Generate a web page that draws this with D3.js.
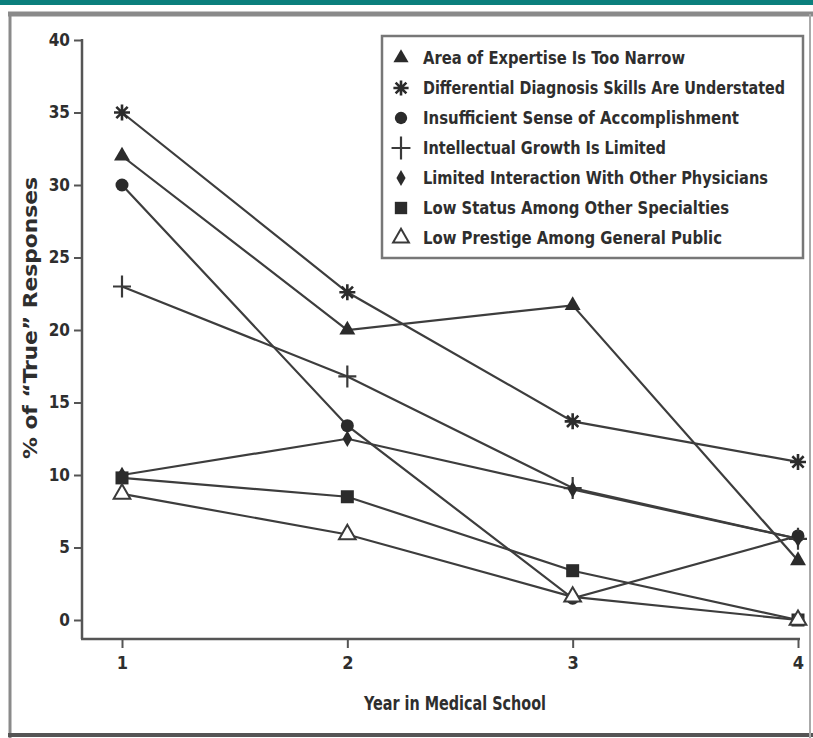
<!DOCTYPE html>
<html>
<head>
<meta charset="utf-8">
<script src="https://cdn.jsdelivr.net/npm/d3@7"></script>
<style>
  html, body { margin: 0; padding: 0; background: #fff; }
  svg { display: block; }
  text { font-family: "Liberation Sans Narrow", "DejaVu Sans Condensed", "Roboto Condensed", sans-serif; fill: #2e2e2e; font-weight: bold; }
</style>
</head>
<body>
<svg id="chart" width="813" height="738"></svg>
<script>
// ---- data ----
const years = [1, 2, 3, 4];
const yTicks = [0, 5, 10, 15, 20, 25, 30, 35, 40];
const seriesNames = [
  "Area of Expertise Is Too Narrow",
  "Differential Diagnosis Skills Are Understated",
  "Insufficient Sense of Accomplishment",
  "Intellectual Growth Is Limited",
  "Limited Interaction With Other Physicians",
  "Low Status Among Other Specialties",
  "Low Prestige Among General Public"
];
const areaOfExpertise        = [32.0, 20.0, 21.7, 4.1];
const differentialDiagnosis  = [35.0, 22.6, 13.7, 10.9];
const insufficientSense      = [30.0, 13.4, 1.5, 5.8];
const intellectualGrowth     = [23.0, 16.8, 9.1, 5.6];
const limitedInteraction     = [10.0, 12.5, 9.0, 5.6];
const lowStatus              = [9.8, 8.5, 3.4, 0.0];
const lowPrestige            = [8.7, 5.9, 1.6, 0.0];
const seriesValues = [areaOfExpertise, differentialDiagnosis, insufficientSense,
  intellectualGrowth, limitedInteraction, lowStatus, lowPrestige];
const markerTypes = ["triangle", "asterisk", "circle", "plus", "diamond", "square", "openTriangle"];
const xTitle = "Year in Medical School";
const yTitle = "% of \u201CTrue\u201D Responses";

// ---- drawing ----
const svg = d3.select("#chart");
const fontStack = "'Liberation Sans Narrow','DejaVu Sans Condensed',sans-serif";

// frame / scan border
svg.append("rect").attr("x", 0).attr("y", 0).attr("width", 813).attr("height", 5).attr("fill", "#0b7f7c");
svg.append("line").attr("x1", 8).attr("x2", 813).attr("y1", 14).attr("y2", 14).attr("stroke", "#8a8a8a").attr("stroke-width", 5);
svg.append("line").attr("x1", 10).attr("x2", 10).attr("y1", 14).attr("y2", 738).attr("stroke", "#8a8a8a").attr("stroke-width", 3);
svg.append("line").attr("x1", 8).attr("x2", 813).attr("y1", 735).attr("y2", 735).attr("stroke", "#555").attr("stroke-width", 4);
svg.append("line").attr("x1", 810).attr("x2", 810).attr("y1", 14).attr("y2", 738).attr("stroke", "#aaa").attr("stroke-width", 2);

const x = d3.scaleLinear().domain([1, 4]).range([122, 798]);
const y = d3.scaleLinear().domain([0, 40]).range([620, 40]);
const axisY = 639, axisX = 82;

// y axis
const gy = svg.append("g").attr("transform", `translate(${axisX},0)`)
  .call(d3.axisLeft(y).tickValues(yTicks).tickSize(8).tickPadding(4));
gy.select(".domain").remove();
gy.selectAll(".tick line").attr("stroke", "#555").attr("stroke-width", 2);
gy.selectAll(".tick text").attr("font-size", 17).attr("fill", "#333").attr("font-weight", "bold")
  .style("font-family", fontStack);
svg.append("line").attr("x1", axisX).attr("x2", axisX).attr("y1", y(40) - 1).attr("y2", axisY)
  .attr("stroke", "#555").attr("stroke-width", 2.5);

// x axis
const gx = svg.append("g").attr("transform", `translate(0,${axisY})`)
  .call(d3.axisBottom(x).tickValues(years).tickFormat(d3.format("d")).tickSize(9).tickPadding(8));
gx.select(".domain").remove();
gx.selectAll(".tick line").attr("stroke", "#555").attr("stroke-width", 2);
gx.selectAll(".tick text").attr("font-size", 18).attr("fill", "#333").attr("font-weight", "bold")
  .style("font-family", fontStack);
svg.append("line").attr("x1", axisX - 1).attr("x2", x(4) + 2).attr("y1", axisY).attr("y2", axisY)
  .attr("stroke", "#555").attr("stroke-width", 2.5);

// axis titles
svg.append("text").attr("x", 455).attr("y", 710).attr("text-anchor", "middle")
  .attr("font-size", 20).attr("textLength", 182).attr("lengthAdjust", "spacingAndGlyphs").text(xTitle);
svg.append("text").attr("transform", "translate(37,318) rotate(-90)").attr("text-anchor", "middle")
  .attr("font-size", 20).attr("textLength", 282).attr("lengthAdjust", "spacingAndGlyphs").text(yTitle);

// marker drawer
function drawMarker(g, type, cx, cy, scale) {
  const s = scale || 1;
  const m = g.append("g").attr("transform", `translate(${cx},${cy})`);
  switch (type) {
    case "triangle":
      m.append("path").attr("d", d3.symbol(d3.symbolTriangle, 110 * s * s)()).attr("fill", "#2b2b2b");
      break;
    case "openTriangle":
      m.append("path").attr("d", d3.symbol(d3.symbolTriangle, 120 * s * s)()).attr("fill", "#fff")
        .attr("stroke", "#3a3a3a").attr("stroke-width", 2);
      break;
    case "circle":
      m.append("circle").attr("r", 6.5 * s).attr("fill", "#2b2b2b");
      break;
    case "square":
      m.append("rect").attr("x", -6.5 * s).attr("y", -6.5 * s).attr("width", 13 * s).attr("height", 13 * s).attr("fill", "#2b2b2b");
      break;
    case "diamond":
      m.append("path").attr("d", d3.symbol(d3.symbolDiamond, 80 * s * s)()).attr("fill", "#2b2b2b");
      break;
    case "plus":
      m.append("path").attr("d", `M${-9 * s},0H${9 * s}M0,${-11 * s}V${11 * s}`).attr("stroke", "#3a3a3a").attr("stroke-width", 2.2);
      break;
    case "asterisk": {
      const r = 8 * s;
      let d = "";
      for (let k = 0; k < 4; k++) {
        const a = k * Math.PI / 4;
        d += `M${-r * Math.cos(a)},${-r * Math.sin(a)}L${r * Math.cos(a)},${r * Math.sin(a)}`;
      }
      m.append("path").attr("d", d).attr("stroke", "#2b2b2b").attr("stroke-width", 2.6);
      break;
    }
  }
}

// lines
const line = d3.line().x((d, i) => x(years[i])).y(d => y(d));
const plot = svg.append("g");
seriesValues.forEach(vals => {
  plot.append("path").attr("d", line(vals)).attr("fill", "none")
    .attr("stroke", "#3d3d3d").attr("stroke-width", 2.2);
});
// markers
seriesValues.forEach((vals, si) => {
  vals.forEach((v, i) => drawMarker(plot, markerTypes[si], x(years[i]), y(v), 1));
});

// legend
const lg = svg.append("g");
lg.append("rect").attr("x", 382).attr("y", 36).attr("width", 421).attr("height", 222)
  .attr("fill", "#fff").attr("stroke", "#777").attr("stroke-width", 2.5);
const legendWidths = [262, 362, 316, 243, 345, 306, 299];
seriesNames.forEach((name, i) => {
  const cy = 58 + i * 30;
  drawMarker(lg, markerTypes[i], 401, cy, markerTypes[i] === "plus" ? 1.05 : 0.95);
  lg.append("text").attr("x", 423).attr("y", cy + 6).attr("font-size", 17)
    .attr("textLength", legendWidths[i]).attr("lengthAdjust", "spacingAndGlyphs").text(name);
});
</script>
</body>
</html>
